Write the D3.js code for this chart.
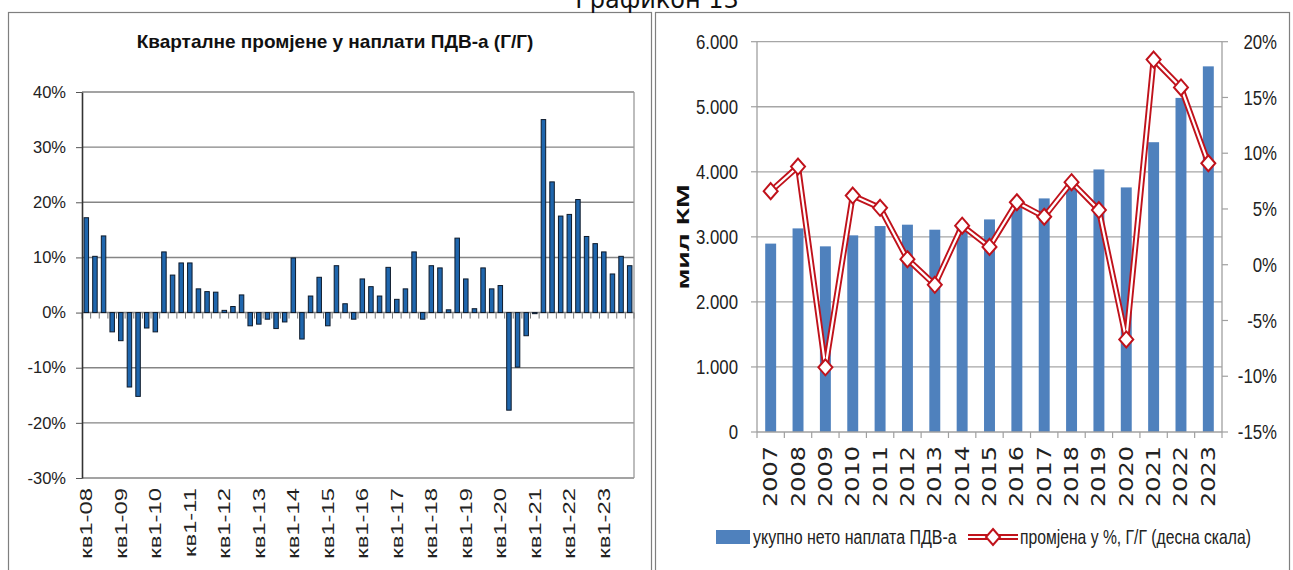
<!DOCTYPE html>
<html><head><meta charset="utf-8">
<script src="https://cdn.jsdelivr.net/npm/d3@7"></script>
<style>body{margin:0;background:#fff}svg{display:block}</style>
</head><body>
<svg id="c" width="1293" height="570"></svg>
<script>
// ---------- DATA ----------
const quarterYears = ["08","09","10","11","12","13","14","15","16","17","18","19","20","21","22","23"];
const quarterNames = ["кв1","кв2","кв3","кв4"];
const quarterlyChange = [
  17.2, 10.2, 13.9, -3.5,   -5.1, -13.5, -15.2, -2.8,
  -3.5, 11.0, 6.8, 9.0,     9.0, 4.3, 3.8, 3.7,
  0.4, 1.1, 3.2, -2.4,      -2.1, -1.2, -2.9, -1.7,
  9.9, -4.8, 3.0, 6.4,      -2.4, 8.5, 1.6, -1.2,
  6.1, 4.7, 3.0, 8.2,       2.4, 4.3, 11.0, -1.2,
  8.5, 8.1, 0.5, 13.5,      6.1, 0.7, 8.1, 4.3,
  4.9, -17.7, -9.9, -4.2,   -0.2, 35.0, 23.7, 17.5,
  17.8, 20.5, 13.8, 12.5,   11.0, 7.0, 10.2, 8.5
];
const leftPctTicks = [-30, -20, -10, 0, 10, 20, 30, 40];

const years = ["2007","2008","2009","2010","2011","2012","2013","2014","2015","2016","2017","2018","2019","2020","2021","2022","2023"];
const vatCollection = [2896, 3130, 2854, 3023, 3166, 3187, 3110, 3216, 3268, 3448, 3591, 3853, 4036, 3760, 4455, 5136, 5621];
const yoyChange = [6.6, 8.8, -9.2, 6.2, 5.1, 0.5, -1.8, 3.5, 1.6, 5.6, 4.3, 7.4, 4.9, -6.7, 18.4, 15.9, 9.1];
const amountTicks = [0, 1000, 2000, 3000, 4000, 5000, 6000];
const rightPctTicks = [-15, -10, -5, 0, 5, 10, 15, 20];

const quarterLabels = [];
quarterYears.forEach(y => quarterNames.forEach(q => quarterLabels.push(q + "-" + y)));

// ---------- SVG ----------
const svg = d3.select("#c");
const SANS = "'Liberation Sans', Arial, sans-serif";

// panel frames
svg.append("rect").attr("x", 8.5).attr("y", 12.5).attr("width", 643).attr("height", 600)
  .attr("fill", "none").attr("stroke", "#7f7f7f").attr("stroke-width", 1.2);
svg.append("rect").attr("x", 655.5).attr("y", 12.5).attr("width", 634).attr("height", 600)
  .attr("fill", "none").attr("stroke", "#7f7f7f").attr("stroke-width", 1.2);

svg.append("text").attr("x", 657).attr("y", 8).attr("text-anchor", "middle")
  .style("font-family", "'DejaVu Sans', sans-serif").style("font-size", "24px").attr("fill", "#111")
  .text("Графикон 13");

// ---------- LEFT CHART ----------
const L = {x0: 82, x1: 634, y0: 92, y1: 478};
const xq = d3.scaleBand().domain(d3.range(quarterlyChange.length)).range([L.x0, L.x1])
  .paddingInner(0.48).paddingOuter(0.24);
const yq = d3.scaleLinear().domain([-30, 40]).range([L.y1, L.y0]);
const stepQ = xq.step();

const gl = svg.append("g");
gl.append("text").attr("x", 335).attr("y", 48).attr("text-anchor", "middle")
  .style("font-family", SANS).style("font-size", "19px").style("font-weight", "bold").attr("fill", "#111")
  .text("Кварталне промјене у наплати ПДВ-а (Г/Г)");

gl.selectAll("line.grid").data(leftPctTicks).join("line").attr("class", "grid")
  .attr("x1", L.x0).attr("x2", L.x1).attr("y1", d => yq(d)).attr("y2", d => yq(d))
  .attr("stroke", "#858585").attr("stroke-width", 1.4);
gl.append("line").attr("x1", L.x1).attr("x2", L.x1).attr("y1", L.y0).attr("y2", L.y1)
  .attr("stroke", "#9a9a9a").attr("stroke-width", 1.3);

// category ticks below zero line
gl.selectAll("line.ct").data(d3.range(quarterlyChange.length + 1)).join("line").attr("class", "ct")
  .attr("x1", i => L.x0 + i * stepQ).attr("x2", i => L.x0 + i * stepQ)
  .attr("y1", yq(0)).attr("y2", yq(0) + 6).attr("stroke", "#777").attr("stroke-width", 1);

const axL = gl.append("g").attr("transform", `translate(${L.x0},0)`)
  .call(d3.axisLeft(yq).tickValues(leftPctTicks).tickFormat(d => d + "%").tickSize(6).tickSizeOuter(0).tickPadding(10));
axL.select(".domain").attr("stroke", "#333").attr("stroke-width", 1.6);
axL.selectAll(".tick line").attr("stroke", "#555");
axL.selectAll(".tick text").style("font-family", SANS).style("font-size", "16.5px").attr("fill", "#222");

gl.selectAll("rect.bar").data(quarterlyChange).join("rect").attr("class", "bar")
  .attr("x", (d, i) => xq(i)).attr("width", xq.bandwidth())
  .attr("y", d => Math.min(yq(d), yq(0))).attr("height", d => Math.abs(yq(d) - yq(0)))
  .attr("fill", "#1f66ad").attr("stroke", "#0d1a2b").attr("stroke-width", 1);

gl.selectAll("text.ql").data(quarterLabels.map((t, i) => ({t, i})).filter(d => d.i % 4 === 0))
  .join("text").attr("class", "ql")
  .attr("transform", d => `translate(${xq(d.i) + xq.bandwidth() / 2},488) rotate(-90) scale(1.4,1)`)
  .attr("text-anchor", "end").attr("dominant-baseline", "central")
  .style("font-family", SANS).style("font-size", "17px").attr("fill", "#222")
  .text(d => d.t);

// ---------- RIGHT CHART ----------
const R = {x0: 757, x1: 1222, y0: 41.7, y1: 432};
const SX = 0.8;
const xy = d3.scaleBand().domain(years).range([R.x0, R.x1]).paddingInner(0.6).paddingOuter(0.3);
const ya = d3.scaleLinear().domain([0, 6000]).range([R.y1, R.y0]);
const yp = d3.scaleLinear().domain([-15, 20]).range([R.y1, R.y0]);
const stepY = xy.step();
const gr = svg.append("g");
const fmt = d => d === 0 ? "0" : d3.format(",")(d).replace(/,/g, ".");

gr.selectAll("line.grid").data(amountTicks.filter(d => d > 0)).join("line").attr("class", "grid")
  .attr("x1", R.x0).attr("x2", R.x1).attr("y1", d => ya(d)).attr("y2", d => ya(d))
  .attr("stroke", "#a6a6a6").attr("stroke-width", 1.3);

// axes lines
gr.append("line").attr("x1", R.x0).attr("x2", R.x0).attr("y1", R.y0).attr("y2", R.y1).attr("stroke", "#a0a0a0").attr("stroke-width", 1.3);
gr.append("line").attr("x1", R.x1).attr("x2", R.x1).attr("y1", R.y0).attr("y2", R.y1).attr("stroke", "#a0a0a0").attr("stroke-width", 1.3);

// bars
gr.selectAll("rect.bar").data(vatCollection).join("rect").attr("class", "bar")
  .attr("x", (d, i) => xy(years[i])).attr("width", xy.bandwidth())
  .attr("y", d => ya(d)).attr("height", d => ya(0) - ya(d))
  .attr("fill", "#4f81bd");

gr.append("line").attr("x1", R.x0).attr("x2", R.x1).attr("y1", R.y1).attr("y2", R.y1).attr("stroke", "#a0a0a0").attr("stroke-width", 1.3);
gr.selectAll("line.ct").data(d3.range(years.length + 1)).join("line").attr("class", "ct")
  .attr("x1", i => R.x0 + i * stepY).attr("x2", i => R.x0 + i * stepY)
  .attr("y1", R.y1).attr("y2", R.y1 + 6).attr("stroke", "#a0a0a0").attr("stroke-width", 1.2);

// left ticks + labels
gr.selectAll("line.lt").data(amountTicks).join("line").attr("class", "lt")
  .attr("x1", R.x0 - 6).attr("x2", R.x0).attr("y1", d => ya(d)).attr("y2", d => ya(d))
  .attr("stroke", "#a0a0a0").attr("stroke-width", 1.2);
gr.selectAll("text.lt").data(amountTicks).join("text").attr("class", "lt")
  .attr("transform", d => `translate(738,${ya(d)}) scale(${SX},1)`)
  .attr("text-anchor", "end").attr("dominant-baseline", "central")
  .style("font-family", SANS).style("font-size", "21px").attr("fill", "#222").text(fmt);

// right ticks + labels
gr.selectAll("line.rt").data(rightPctTicks).join("line").attr("class", "rt")
  .attr("x1", R.x1).attr("x2", R.x1 + 6).attr("y1", d => yp(d)).attr("y2", d => yp(d))
  .attr("stroke", "#a0a0a0").attr("stroke-width", 1.2);
gr.selectAll("text.rt").data(rightPctTicks).join("text").attr("class", "rt")
  .attr("transform", d => `translate(1277,${yp(d)}) scale(${SX},1)`)
  .attr("text-anchor", "end").attr("dominant-baseline", "central")
  .style("font-family", SANS).style("font-size", "21px").attr("fill", "#222").text(d => d + "%");

// year labels
gr.selectAll("text.yl").data(years).join("text").attr("class", "yl")
  .attr("transform", d => `translate(${xy(d) + xy.bandwidth() / 2},446) scale(0.78,1) rotate(-90)`)
  .attr("text-anchor", "end").attr("dominant-baseline", "central")
  .style("font-family", "'DejaVu Sans', sans-serif").style("font-size", "24px").attr("fill", "#222").text(d => d);

// axis title
gr.append("text").attr("transform", `translate(683,237) scale(${SX},1) rotate(-90) scale(1.35,1)`)
  .attr("text-anchor", "middle").attr("dominant-baseline", "central")
  .style("font-family", SANS).style("font-size", "21px").style("font-weight", "bold").attr("fill", "#111")
  .text("мил КМ");

// line series
const lineGen = d3.line().x((d, i) => xy(years[i]) + xy.bandwidth() / 2).y(d => yp(d));
gr.append("path").datum(yoyChange).attr("d", lineGen).attr("fill", "none")
  .attr("stroke", "#c0121b").attr("stroke-width", 6).attr("stroke-linejoin", "miter");
gr.append("path").datum(yoyChange).attr("d", lineGen).attr("fill", "none")
  .attr("stroke", "#fff").attr("stroke-width", 2.2).attr("stroke-linejoin", "miter");
const diamond = "M0,-8L7,0L0,8L-7,0Z";
gr.selectAll("path.mk").data(yoyChange).join("path").attr("class", "mk")
  .attr("transform", (d, i) => `translate(${xy(years[i]) + xy.bandwidth() / 2},${yp(d)})`)
  .attr("d", diamond).attr("fill", "#fff").attr("stroke", "#c0121b").attr("stroke-width", 2);

// legend
const lg = gr.append("g");
lg.append("rect").attr("x", 716).attr("y", 530).attr("width", 34).attr("height", 14).attr("fill", "#4f81bd");
lg.append("text").attr("transform", `translate(753,537) scale(${SX},1)`).attr("dominant-baseline", "central")
  .style("font-family", SANS).style("font-size", "20px").attr("fill", "#222").text("укупно нето наплата ПДВ-а");
lg.append("line").attr("x1", 968).attr("x2", 1018).attr("y1", 537).attr("y2", 537).attr("stroke", "#c0121b").attr("stroke-width", 6);
lg.append("line").attr("x1", 968).attr("x2", 1018).attr("y1", 537).attr("y2", 537).attr("stroke", "#fff").attr("stroke-width", 2.2);
lg.append("path").attr("transform", "translate(993,537)").attr("d", diamond).attr("fill", "#fff").attr("stroke", "#c0121b").attr("stroke-width", 2);
lg.append("text").attr("transform", `translate(1020,537) scale(0.785,1)`).attr("dominant-baseline", "central")
  .style("font-family", SANS).style("font-size", "20px").attr("fill", "#222").text("промјена у %, Г/Г (десна скала)");
</script>
</body></html>
